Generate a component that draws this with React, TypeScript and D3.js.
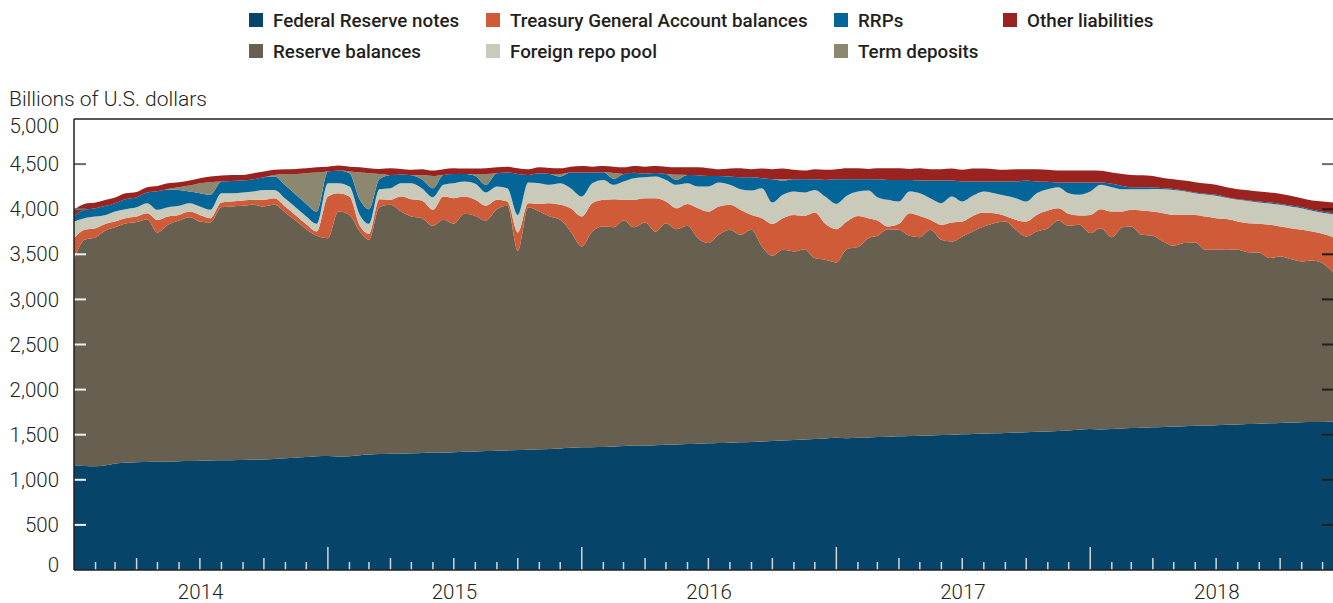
import React from 'react';
import * as d3 from 'd3';

const W = 1333;
const H = 603;

// Semi-monthly observation dates (1st and 16th of each month), Jan 2014 - Dec 2018
const DATES: Date[] = d3.range(120).map(
  (k) => new Date(2014 + Math.floor(k / 24), Math.floor(k / 2) % 12, k % 2 ? 16 : 1)
);

// Billions of U.S. dollars
const FED_NOTES = [
  1165, 1152, 1150, 1160, 1180, 1190, 1195, 1198, 1200, 1203, 1206, 1208, 1212, 1214, 1216, 1218, 1220, 1222, 1225, 1230, 1238, 1245, 1252, 1262, 1265, 1258, 1262, 1272, 1280, 1285,
  1288, 1292, 1295, 1298, 1300, 1303, 1306, 1310, 1313, 1318, 1322, 1326, 1330, 1334, 1338, 1342, 1348, 1355, 1360, 1362, 1364, 1370, 1375, 1378, 1381, 1384, 1388, 1392, 1396, 1400,
  1404, 1408, 1412, 1416, 1420, 1424, 1430, 1436, 1442, 1448, 1452, 1458, 1466, 1462, 1465, 1470, 1474, 1478, 1482, 1485, 1488, 1492, 1496, 1500, 1504, 1508, 1512, 1516, 1520, 1525,
  1528, 1532, 1536, 1540, 1546, 1554, 1562, 1558, 1562, 1568, 1574, 1578, 1582, 1586, 1590, 1594, 1598, 1602, 1606, 1610, 1614, 1618, 1622, 1626, 1630, 1634, 1638, 1640, 1642, 1645,
];
const RESERVES = [
  2274, 2509, 2540, 2608, 2619, 2651, 2662, 2688, 2542, 2624, 2669, 2704, 2652, 2639, 2806, 2812, 2817, 2826, 2805, 2818, 2722, 2626, 2527, 2443, 2414, 2716, 2675, 2481, 2381, 2737,
  2760, 2682, 2624, 2603, 2516, 2579, 2532, 2639, 2613, 2557, 2678, 2711, 2209, 2688, 2636, 2577, 2534, 2398, 2227, 2391, 2444, 2431, 2500, 2423, 2472, 2369, 2457, 2387, 2420, 2279,
  2220, 2308, 2359, 2300, 2351, 2163, 2054, 2114, 2090, 2109, 2006, 1981, 1944, 2095, 2115, 2209, 2231, 2301, 2289, 2220, 2202, 2279, 2165, 2142, 2194, 2245, 2296, 2329, 2344, 2246,
  2170, 2221, 2254, 2335, 2270, 2273, 2173, 2232, 2128, 2233, 2234, 2138, 2123, 2056, 2004, 2030, 2033, 1948, 1944, 1947, 1936, 1906, 1898, 1832, 1846, 1813, 1783, 1792, 1760, 1654,
];
const TGA = [
  240, 110, 100, 70, 65, 60, 62, 70, 140, 92, 62, 62, 73, 48, 52, 55, 59, 56, 74, 74, 66, 59, 55, 48, 461, 203, 203, 63, 66, 89,
  56, 166, 192, 195, 177, 258, 284, 191, 178, 162, 104, 48, 203, 45, 85, 148, 166, 258, 332, 314, 296, 310, 229, 303, 269, 369, 240, 232, 243, 332,
  350, 314, 277, 277, 166, 314, 354, 351, 405, 369, 505, 399, 369, 307, 346, 222, 170, 29, 67, 251, 236, 111, 166, 211, 166, 173, 155, 111, 62, 111,
  166, 184, 195, 136, 133, 103, 202, 210, 284, 173, 185, 269, 269, 314, 343, 313, 306, 369, 351, 333, 314, 321, 318, 369, 332, 343, 350, 321, 325, 391,
];
const FOREIGN_REPO = [
  185, 130, 129, 99, 110, 99, 103, 111, 111, 103, 100, 93, 93, 92, 103, 92, 89, 92, 110, 92, 89, 89, 85, 85, 148, 111, 111, 121, 111, 111,
  129, 148, 177, 137, 140, 130, 166, 166, 177, 148, 147, 148, 195, 228, 229, 203, 240, 222, 221, 221, 221, 159, 202, 239, 232, 240, 240, 259, 229, 240,
  277, 265, 222, 229, 270, 332, 236, 258, 259, 259, 251, 302, 280, 284, 270, 306, 258, 296, 247, 240, 251, 240, 240, 287, 221, 222, 233, 221, 222, 240,
  221, 240, 237, 233, 228, 229, 259, 270, 270, 248, 229, 237, 251, 266, 277, 262, 240, 243, 247, 236, 240, 247, 236, 236, 240, 240, 240, 229, 233, 255,
];
const RRPS = [
  62, 92, 92, 100, 93, 111, 111, 118, 206, 196, 177, 129, 147, 166, 129, 137, 133, 136, 140, 148, 147, 140, 140, 136, 129, 140, 148, 167, 162, 110,
  147, 96, 89, 99, 100, 110, 103, 85, 88, 85, 148, 173, 454, 85, 111, 121, 74, 173, 266, 118, 85, 67, 85, 61, 40, 38, 65, 55, 91, 126,
  118, 74, 92, 132, 147, 110, 258, 158, 136, 147, 118, 185, 273, 184, 136, 125, 199, 221, 240, 129, 140, 195, 250, 177, 221, 158, 110, 129, 158, 184,
  232, 129, 81, 51, 118, 136, 99, 25, 37, 36, 22, 22, 15, 11, 11, 8, 8, 8, 11, 7, 7, 8, 11, 11, 11, 11, 11, 11, 11, 11,
];
const TERM_DEPOSITS = [
  0, 0, 0, 0, 0, 0, 0, 0, 0, 7, 30, 66, 111, 140, 0, 0, 0, 0, 0, 18, 129, 232, 340, 432, 0, 0, 18, 302, 399, 59,
  0, 0, 0, 48, 136, 0, 0, 0, 22, 121, 0, 0, 0, 0, 0, 0, 29, 0, 0, 0, 0, 63, 0, 0, 0, 0, 0, 56, 0, 0,
  0, 0, 0, 0, 0, 0, 0, 15, 0, 0, 0, 0, 0, 0, 0, 0, 0, 0, 0, 0, 0, 0, 0, 0, 0, 0, 0, 0, 0, 0,
  0, 0, 0, 0, 0, 0, 0, 0, 0, 0, 0, 0, 0, 0, 0, 0, 0, 0, 0, 0, 0, 0, 0, 0, 0, 0, 0, 0, 0, 0,
];
const OTHER = [
  67, 66, 63, 67, 62, 66, 59, 59, 59, 63, 55, 55, 55, 63, 67, 66, 62, 67, 63, 56, 52, 56, 55, 59, 55, 56, 55, 59, 55, 56,
  74, 63, 59, 63, 59, 63, 63, 59, 59, 63, 66, 66, 63, 63, 66, 67, 63, 66, 74, 66, 70, 72, 74, 76, 78, 80, 82, 84, 86, 88,
  85, 74, 88, 100, 89, 107, 111, 118, 104, 96, 111, 111, 111, 122, 122, 115, 122, 129, 129, 122, 137, 126, 126, 133, 130, 144, 144, 137, 130, 137,
  126, 137, 133, 133, 133, 133, 133, 130, 125, 133, 136, 133, 129, 114, 107, 110, 114, 114, 111, 111, 111, 111, 111, 111, 111, 107, 100, 103, 114, 118,
];

const Y_TICKS = [0, 500, 1000, 1500, 2000, 2500, 3000, 3500, 4000, 4500, 5000];
const YEARS = [2014, 2015, 2016, 2017, 2018];

const SERIES = [
  { key: 'fr', label: 'Federal Reserve notes', color: '#06446a', values: FED_NOTES },
  { key: 'res', label: 'Reserve balances', color: '#675f50', values: RESERVES },
  { key: 'tga', label: 'Treasury General Account balances', color: '#d05b38', values: TGA },
  { key: 'frp', label: 'Foreign repo pool', color: '#c9cab9', values: FOREIGN_REPO },
  { key: 'rrp', label: 'RRPs', color: '#046598', values: RRPS },
  { key: 'td', label: 'Term deposits', color: '#8c8870', values: TERM_DEPOSITS },
  { key: 'oth', label: 'Other liabilities', color: '#9b231f', values: OTHER },
];

const LEGEND = [
  { key: 'fr', col: 0, row: 0 },
  { key: 'tga', col: 1, row: 0 },
  { key: 'rrp', col: 2, row: 0 },
  { key: 'oth', col: 3, row: 0 },
  { key: 'res', col: 0, row: 1 },
  { key: 'frp', col: 1, row: 1 },
  { key: 'td', col: 2, row: 1 },
];
const LEGEND_X = [249, 486, 834, 1003];
const LEGEND_Y = [20, 51];

const LEFT = 74;
const RIGHT = 1333;
const TOP = 119;
const BOTTOM = 570;

export default function App() {
  const x = d3.scaleTime().domain([new Date(2014, 0, 1), new Date(2018, 11, 16)]).range([LEFT, RIGHT]);
  const y = d3.scaleLinear().domain([0, 5000]).range([BOTTOM, TOP]);

  const rows = DATES.map((d, i) => {
    const r: any = { date: d };
    SERIES.forEach((s) => (r[s.key] = s.values[i]));
    return r;
  });
  const stack = d3.stack<any>().keys(SERIES.map((s) => s.key));
  const layers = stack(rows);
  const area = d3
    .area<any>()
    .x((d) => x(d.data.date))
    .y0((d) => y(d[0]))
    .y1((d) => y(d[1]))
    .curve(d3.curveMonotoneX);

  const totalFirst = SERIES.reduce((a, s) => a + s.values[0], 0);
  const totalLast = SERIES.reduce((a, s) => a + s.values[s.values.length - 1], 0);

  const months = d3.timeMonth.range(new Date(2014, 1, 1), new Date(2018, 11, 2));
  const font = 'Roboto, "Noto Sans", sans-serif';

  return (
    <svg width={W} height={H} style={{ position: 'absolute', left: 0, top: 0, background: '#fff' }}>
      <defs>
        <clipPath id="plot">
          <rect x={LEFT} y={TOP} width={RIGHT - LEFT} height={BOTTOM - TOP} />
        </clipPath>
      </defs>

      {/* Legend */}
      {LEGEND.map((l) => {
        const s = SERIES.find((q) => q.key === l.key)!;
        const lx = LEGEND_X[l.col];
        const ly = LEGEND_Y[l.row];
        return (
          <g key={l.key}>
            <rect x={lx} y={ly - 7} width={14} height={14} fill={s.color} />
            <text x={lx + 24} y={ly} dy="0.35em" fontFamily={font} fontWeight={500} fontSize={18.8} fill="#231f20">
              {s.label}
            </text>
          </g>
        );
      })}

      <text x={9} y={99} dy="0.35em" fontFamily={font} fontWeight={300} fontSize={21} fill="#231f20">
        Billions of U.S. dollars
      </text>

      {/* Areas */}
      <g clipPath="url(#plot)">
        {layers.map((layer, i) => (
          <path key={layer.key} d={area(layer) || ''} fill={SERIES[i].color} />
        ))}
      </g>

      {/* X ticks */}
      {months.map((m) => {
        const isYear = m.getMonth() === 0;
        const isQuarter = m.getMonth() % 3 === 0;
        const len = isYear ? 23 : isQuarter ? 12 : 8;
        const xx = x(m);
        return <line key={+m} x1={xx} x2={xx} y1={BOTTOM} y2={BOTTOM - len} stroke="#d6d6d6" strokeWidth={1.5} />;
      })}

      {/* Y ticks */}
      {Y_TICKS.filter((t) => t > 0 && t < 5000).map((t) => (
        <g key={t}>
          <line x1={LEFT} x2={LEFT + 12} y1={y(t)} y2={y(t)} stroke={t > totalFirst ? '#6d6d6d' : '#f2f2f2'} strokeWidth={2} />
          <line x1={RIGHT - 11} x2={RIGHT} y1={y(t)} y2={y(t)} stroke={t > totalLast ? '#6d6d6d' : '#231f20'} strokeWidth={2} />
        </g>
      ))}

      {/* Frame */}
      <line x1={LEFT} x2={RIGHT} y1={TOP} y2={TOP} stroke="#231f20" strokeWidth={1.5} />
      <line x1={LEFT} x2={LEFT} y1={TOP} y2={BOTTOM} stroke="#231f20" strokeWidth={1.5} />
      <line x1={LEFT} x2={RIGHT} y1={BOTTOM} y2={BOTTOM} stroke="#231f20" strokeWidth={1.5} />

      {/* Y labels */}
      {Y_TICKS.map((t) => {
        const yy = t === 5000 ? y(t) + 7 : t === 0 ? y(t) - 5 : y(t);
        return (
          <text key={t} x={59} y={yy} dy="0.35em" textAnchor="end" fontFamily={font} fontWeight={300} fontSize={20.5} fill="#231f20">
            {d3.format(',')(t)}
          </text>
        );
      })}

      {/* X labels */}
      {YEARS.map((yr) => (
        <text key={yr} x={x(new Date(yr, 6, 2))} y={592} dy="0.35em" textAnchor="middle" fontFamily={font} fontWeight={300} fontSize={20.5} fill="#231f20">
          {yr}
        </text>
      ))}
    </svg>
  );
}
